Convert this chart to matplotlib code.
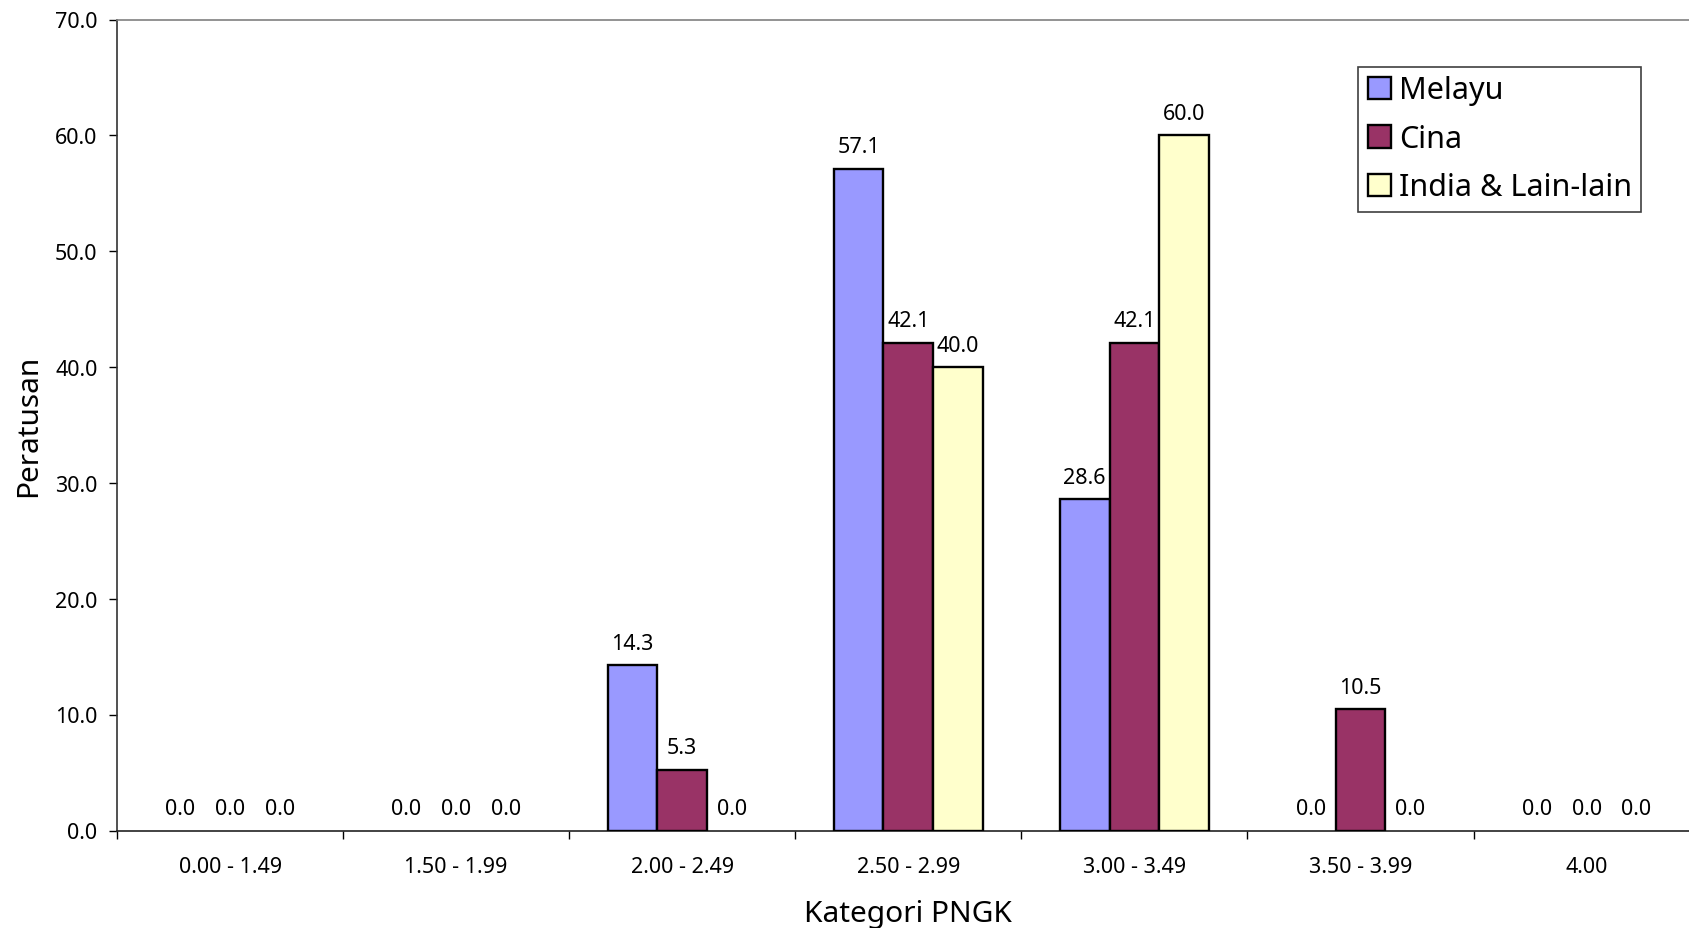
import numpy as np
import matplotlib
matplotlib.use("Agg")
import matplotlib.pyplot as plt

plt.rcParams['font.family'] = ['Noto Sans', 'DejaVu Sans']

# data
categories = ["0.00 - 1.49", "1.50 - 1.99", "2.00 - 2.49", "2.50 - 2.99",
              "3.00 - 3.49", "3.50 - 3.99", "4.00"]
melayu = [0.0, 0.0, 14.3, 57.1, 28.6, 0.0, 0.0]
cina = [0.0, 0.0, 5.3, 42.1, 42.1, 10.5, 0.0]
india = [0.0, 0.0, 0.0, 40.0, 60.0, 0.0, 0.0]

series = [("Melayu", melayu, "#9999FF"),
          ("Cina", cina, "#993366"),
          ("India & Lain-lain", india, "#FFFFCC")]

fig = plt.figure(figsize=(16.89, 9.284), dpi=100)
ax = fig.add_axes([0.0693, 0.1045, 0.937, 0.874])

x = np.arange(len(categories))
w = 0.22
for i, (name, vals, col) in enumerate(series):
    pos = x + (i - 1) * w
    # zero bars drawn without outline so they don't thicken the baseline
    lw = [1.7 if v > 0 else 0 for v in vals]
    ax.bar(pos, vals, width=w, color=col, edgecolor="black", linewidth=lw,
           label=name, zorder=3)
    for px, v in zip(pos, vals):
        ax.annotate(f"{v:.1f}", (px, v), xytext=(0, 8), textcoords="offset points",
                    ha="center", va="bottom", fontsize=15.5)

ax.set_xlim(-0.5, len(categories) - 0.5)
ax.set_ylim(0, 70)
ax.set_yticks(np.arange(0, 71, 10))
ax.set_yticklabels([f"{t:.1f}" for t in np.arange(0, 71, 10)], fontsize=15.5)
ax.set_xticks(x)
ax.set_xticklabels(categories, fontsize=15.5)
ax.set_xticks(np.arange(-0.5, len(categories), 1), minor=True)
ax.tick_params(axis="x", which="major", length=0, pad=18.5)
ax.tick_params(axis="x", which="minor", length=6, width=1, direction="out")
ax.tick_params(axis="y", length=6, width=1, direction="out", pad=8)

ax.spines["top"].set_color("#808080")
ax.spines["right"].set_color("#808080")
ax.spines["left"].set_color("#333333")
ax.spines["bottom"].set_color("#222222")
for s in ax.spines.values():
    s.set_linewidth(1.2)

ax.set_xlabel("Kategori PNGK", fontsize=21.5)
ax.set_ylabel("Peratusan", fontsize=21.5)
ax.xaxis.set_label_coords(0.5, -0.085)
ax.yaxis.set_label_coords(-0.047, 0.5)

leg = ax.legend(loc="upper right", bbox_to_anchor=(0.963, 0.942), borderaxespad=0,
                fontsize=22, handlelength=0.75, handleheight=0.75,
                handletextpad=0.27, labelspacing=0.6, borderpad=0.3,
                fancybox=False, framealpha=1, edgecolor="#404040")
leg.get_frame().set_linewidth(1.2)
for h in leg.legend_handles:
    h.set_edgecolor("black")
    h.set_linewidth(1.7)

fig.savefig("out.png", dpi=100)
